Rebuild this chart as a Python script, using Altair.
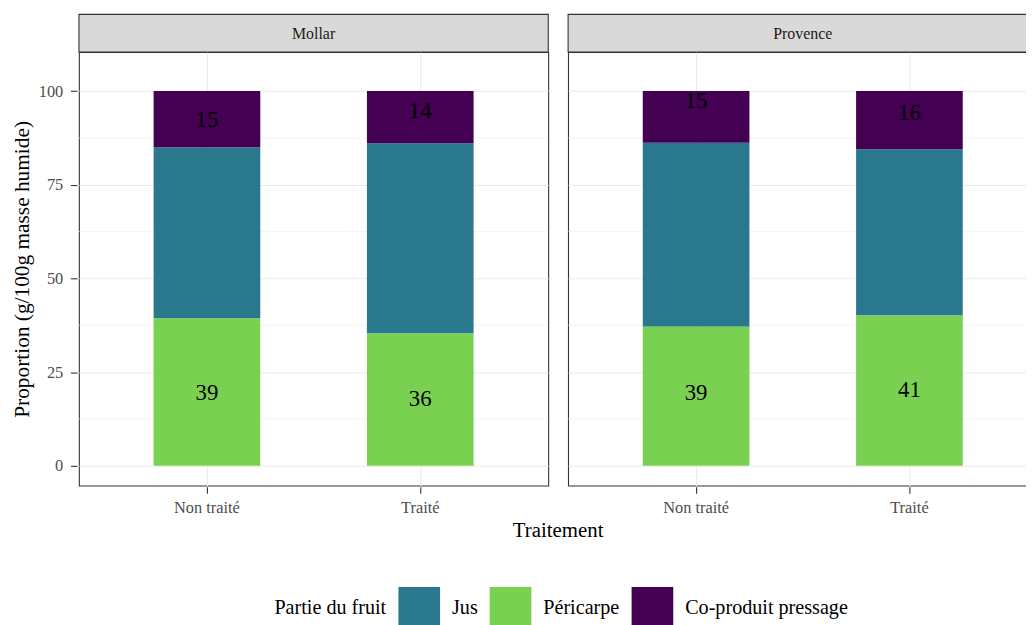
import altair as alt
import pandas as pd

# ---- data ----
varietes = ["Mollar", "Provence"]
traitements = ["Non traité", "Traité"]
parties = ["Jus", "Péricarpe", "Co-produit pressage"]
couleurs = ["#2a788e", "#7ad151", "#440154"]
ordre_pile = [2, 1, 3]  # stacking order (Péricarpe bottom, Jus middle, Co-produit top)

# rows: Mollar/Non traité, Mollar/Traité, Provence/Non traité, Provence/Traité
ligne_variete = ["Mollar", "Mollar", "Provence", "Provence"]
ligne_traitement = ["Non traité", "Traité", "Non traité", "Traité"]
jus = [45.7, 50.8, 49.1, 44.4]
pericarpe = [39.3, 35.3, 37.1, 40.1]
coproduit = [15.0, 13.9, 13.8, 15.5]

etiq_pericarpe = ["39", "36", "39", "41"]
etiq_pericarpe_y = [19.5, 17.7, 19.4, 20.3]
etiq_coproduit = ["15", "14", "15", "16"]
etiq_coproduit_y = [92.2, 94.7, 97.4, 94.0]

y_ticks = [0, 25, 50, 75, 100]
y_minor = [12.5, 37.5, 62.5, 87.5]
y_domain = [-5.3, 110.4]

# ---- one table, with a "kind" column to separate the layers ----
rows = []
for i in range(4):
    for p, vals, o in zip(parties, [jus, pericarpe, coproduit], ordre_pile):
        rows.append({"kind": "bar", "Variete": ligne_variete[i], "Traitement": ligne_traitement[i],
                     "Partie": p, "Valeur": vals[i], "Ordre": o})
    rows.append({"kind": "label", "Variete": ligne_variete[i], "Traitement": ligne_traitement[i],
                 "Texte": etiq_pericarpe[i], "Y": etiq_pericarpe_y[i]})
    rows.append({"kind": "label", "Variete": ligne_variete[i], "Traitement": ligne_traitement[i],
                 "Texte": etiq_coproduit[i], "Y": etiq_coproduit_y[i]})
for v in varietes:
    rows.append({"kind": "strip", "Variete": v})
    for m in y_minor:
        rows.append({"kind": "minor", "Variete": v, "Y": m})
df = pd.DataFrame(rows)

W, H = 473, 437
FONT = "Liberation Serif"

legend = alt.Legend(
    title="Partie du fruit", orient="none", legendX=197, legendY=539,
    direction="horizontal", titleOrient="left",
    symbolType="square", symbolSize=1764, symbolStrokeWidth=0, symbolOpacity=1,
    labelFontSize=20.3, titleFontSize=20.3, titleFontWeight="normal", labelLimit=400,
    labelColor="black", titleColor="black", labelFont=FONT, titleFont=FONT,
    labelOffset=12, columnPadding=12, titlePadding=12,
)

yscale = alt.Scale(domain=y_domain, nice=False, zero=False)
xenc = alt.X("Traitement:N", sort=traitements,
             scale=alt.Scale(domain=traitements, paddingInner=0.5, paddingOuter=0.35),
             axis=alt.Axis(title=None, labelAngle=0, labelPadding=6.3, grid=True))

base = alt.Chart(df)

minor = base.transform_filter("datum.kind == 'minor'").mark_rule(
    color="#ebebeb", strokeWidth=0.6).encode(y=alt.Y("Y:Q", scale=yscale))

bars = base.transform_filter("datum.kind == 'bar'").mark_bar().encode(
    x=xenc,
    y=alt.Y("Valeur:Q", stack="zero", scale=yscale,
            axis=alt.Axis(values=y_ticks, title="Proportion (g/100g masse humide)",
                          labelPadding=7.7, titlePadding=5)),
    color=alt.Color("Partie:N", scale=alt.Scale(domain=parties, range=couleurs), legend=legend),
    order=alt.Order("Ordre:Q", sort="ascending"),
)

texts = base.transform_filter("datum.kind == 'label'").mark_text(
    fontSize=23, color="black", baseline="middle", font=FONT).encode(
    x=alt.X("Traitement:N", sort=traitements), y=alt.Y("Y:Q", scale=yscale), text="Texte:N")

strip_rect = base.transform_filter("datum.kind == 'strip'").mark_rect(
    fill="#d9d9d9", stroke="#333333", strokeWidth=1.1).encode(
    x=alt.value(0), x2=alt.value(W), y=alt.value(-38), y2=alt.value(0))

strip_text = base.transform_filter("datum.kind == 'strip'").mark_text(
    fontSize=16, color="#1a1a1a", baseline="middle", font=FONT).encode(
    x=alt.value(W / 2), y=alt.value(-18.5), text="Variete:N")

chart = alt.layer(minor, bars, texts, strip_rect, strip_text).properties(
    width=W, height=H
).facet(
    column=alt.Column("Variete:N", sort=varietes,
                      header=alt.Header(labels=False, title="Traitement", titleOrient="bottom",
                                        titleFontSize=21, titleFont=FONT, titleFontWeight="normal",
                                        titleColor="black", titlePadding=-6)),
    spacing=16,
).properties(
    autosize=alt.AutoSizeParams(type="none"),
    padding={"left": 71.5, "top": 42, "right": 954.5, "bottom": 575}
).configure(font=FONT).configure_view(
    stroke="#333333", strokeWidth=1.1
).configure_axis(
    gridColor="#ebebeb", gridWidth=1.1, tickColor="#333333", tickSize=6.6, tickWidth=1.1,
    labelColor="#4d4d4d", labelFontSize=16.5, domain=False, titleColor="black",
    titleFontSize=21.5, titleFontWeight="normal", labelFont=FONT, titleFont=FONT
)

chart.save("out.html", embed_options={"renderer": "svg", "actions": False})
